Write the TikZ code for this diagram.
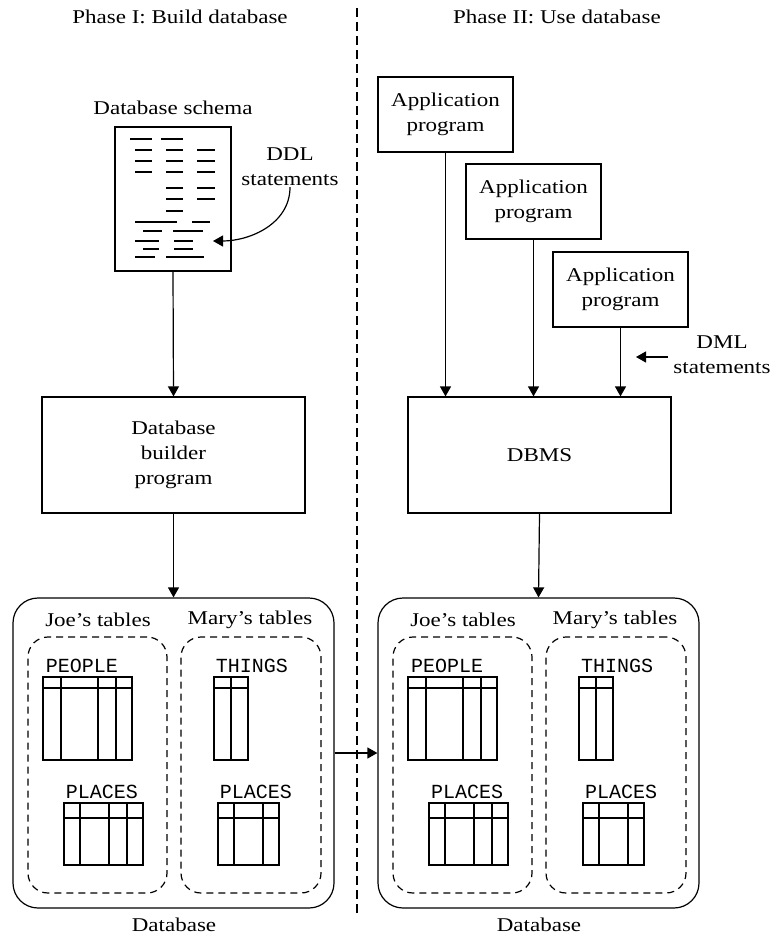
\documentclass[tikz,border=0pt]{standalone}
\usepackage{fontspec}
\setmainfont{Liberation Serif}[FakeStretch=1.18]
\setmonofont{Liberation Mono}
\usetikzlibrary{arrows.meta, positioning}
\tikzset{
    every node/.style={font=\fontsize{19.5}{25}\selectfont},
    progbox/.style={draw, rectangle, line width=1.2pt, align=center, minimum width=263pt, minimum height=116pt},
    appbox/.style={draw, rectangle, line width=1.2pt, align=center, minimum width=135pt, minimum height=75pt},
    docbox/.style={draw, rectangle, line width=1.2pt, minimum width=116pt, minimum height=144pt},
    dbbox/.style={draw, rectangle, rounded corners=25pt, line width=1.2pt, minimum width=321pt, minimum height=310pt},
    ownerbox/.style={draw, rectangle, dash pattern=on 7pt off 5pt, rounded corners=20pt, line width=1.2pt, minimum height=256pt},
    flow/.style={-{Triangle[length=10pt,width=11pt]}, line width=1.2pt},
    tablename/.style={font=\fontsize{20}{22}\selectfont\ttfamily},
    txt/.style={align=center},
    divider/.style={dash pattern=on 9pt off 5pt, line width=1.2pt},
}
% table: x1, y1, x2, y2, header y, column x list
\newcommand{\dbtable}[6]{%
    \draw[line width=1.2pt] (#1,#2) rectangle (#3,#4);
    \draw[line width=1.2pt] (#1,#5) -- (#3,#5);
    \foreach \c in {#6} \draw[line width=1.2pt] (\c,#2) -- (\c,#4);
}
\begin{document}
\begin{tikzpicture}[x=1pt, y=-1pt]
    \useasboundingbox (0,0) rectangle (774,941);

    % the two phases
    \node (phase1) at (180,17) {Phase I: Build database};
    \node (phase2) at (557,17) {Phase II: Use database};
    \draw[divider] (357,8) -- (357,915);

    % Phase I: schema and builder
    \node (schemalbl) at (173,108) {Database schema};
    \node[docbox] (schema) at (173,199) {};
    \foreach \y/\xa/\xb in {139/130/152, 139/161/183,
            150/135/152, 150/166/183, 150/197/215,
            161/135/152, 161/166/183, 161/197/215,
            172/135/152, 172/166/183, 172/197/215,
            188/166/183, 188/197/215, 199/166/183, 199/197/215,
            211/166/183, 222/135/177, 222/192/210,
            231/143/162, 231/173/203, 241/135/159, 241/174/193,
            249/143/159, 249/174/193, 257/135/155, 257/166/204}
        \draw[line width=1.2pt] (\xa,\y) -- (\xb,\y);
    \node[txt, inner sep=1pt] (ddl) at (290,167) {DDL\\statements};
    \coordinate (ddltip) at (213,241);
    \draw[flow] (ddl.south) to[out=-90, in=0] (ddltip);

    \node[progbox] (builder) at (173.5,455) {Database\\builder\\program};

    % Phase II: applications and DBMS
    \node[appbox] (app1) at (445.5,114.5) {Application\\program};
    \node[appbox] (app2) at (533.5,201.5) {Application\\program};
    \node[appbox] (app3) at (620.5,289.5) {Application\\program};
    \node[progbox] (dbms) at (539.5,455) {DBMS};
    \node[txt] (dml) at (722,355) {DML\\statements};
    \coordinate (dmltip) at (636,357);
    \draw[flow, shorten <=2pt] (dml.west |- dmltip) -- (dmltip);

    % the two databases
    \foreach \s/\n in {0/a, 365/b} {
        \begin{scope}[xshift=\s]
            \node[dbbox] (db\n) at (173.5,753) {};
            \node (joelbl\n) at (98,620) {Joe’s tables};
            \node (marylbl\n) at (250,620) {Mary’s tables};
            \node[ownerbox, minimum width=139pt] (joe\n) at (97.5,765) {};
            \node[ownerbox, minimum width=140pt] (mary\n) at (251,765) {};
            \node[tablename] (people\n) at (82,666) {PEOPLE};
            \node[tablename] (placesj\n) at (102,792) {PLACES};
            \node[tablename] (things\n) at (252,666) {THINGS};
            \node[tablename] (placesm\n) at (256,792) {PLACES};
            \dbtable{43}{677}{132}{760}{688}{61,98,116}
            \dbtable{64}{803}{143}{865}{818}{80,109,127}
            \dbtable{214}{677}{248}{760}{688}{231}
            \dbtable{218}{803}{279}{865}{818}{234,263}
            \node (dblbl\n) at (174,925) {Database};
        \end{scope}
    }

    % connectors
    \draw[flow] (schema.south) -- (builder.north);
    \draw[flow] (builder.south) -- (dba.north);
    \draw[flow] (app1.south) -- (app1.south |- dbms.north);
    \draw[flow] (app2.south) -- (app2.south |- dbms.north);
    \draw[flow] (app3.south) -- (app3.south |- dbms.north);
    \draw[flow] (dbms.south) -- (dbb.north);
    \draw[flow] (dba.east) -- (dbb.west);
\end{tikzpicture}
\end{document}
